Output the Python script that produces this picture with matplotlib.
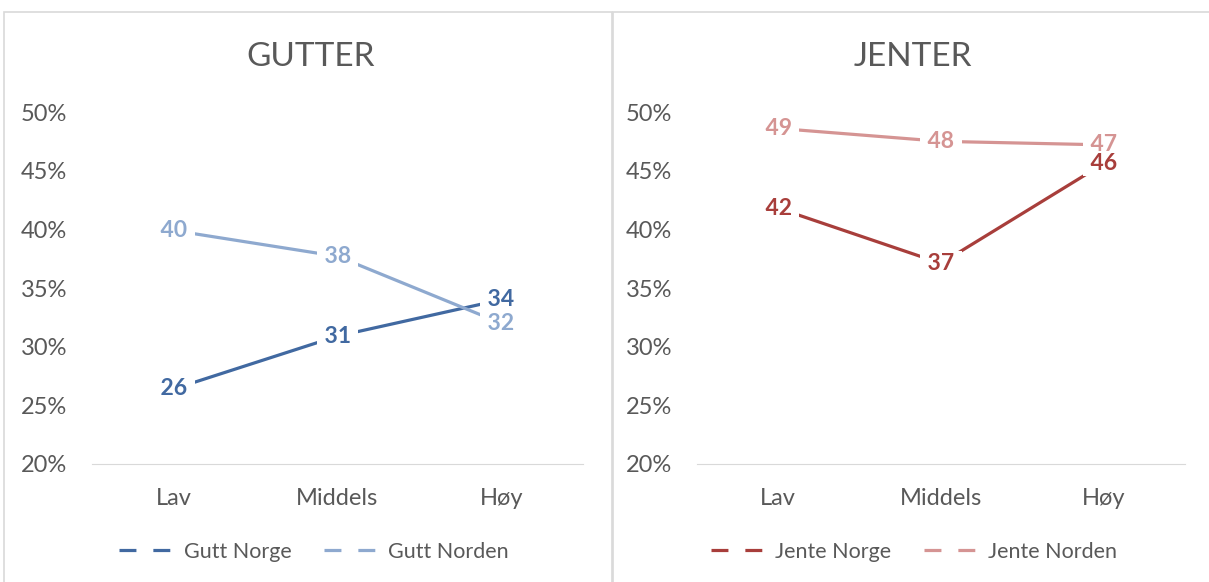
import matplotlib.pyplot as plt
from matplotlib.lines import Line2D
from matplotlib.patches import Rectangle
from matplotlib.ticker import PercentFormatter

categories = ["Lav", "Middels", "Høy"]
gutt_norge = [26.4, 30.9, 34.0]
gutt_norden = [39.9, 37.7, 32.0]
jente_norge = [41.8, 37.1, 45.6]
jente_norden = [48.6, 47.5, 47.2]

grey = "#595959"
plt.rcParams["font.family"] = ["Lato", "DejaVu Sans"]

fig = plt.figure(figsize=(12.09, 5.82), dpi=100)
W, H = 1209, 582

# chart boxes
for x0, x1 in [(4, 612), (613, 1215)]:
    fig.patches.append(Rectangle((x0 / W, -0.05), (x1 - x0) / W, 1.05 - 12 / H,
                                 transform=fig.transFigure, fill=False,
                                 ec="#D9D9D9", lw=1.2))

panels = [
    ("GUTTER", [92, 583], [("Gutt Norge", gutt_norge, "#4169A1"),
                           ("Gutt Norden", gutt_norden, "#8EA9CF")], 314, 311),
    ("JENTER", [697, 1185], [("Jente Norge", jente_norge, "#A83E3B"),
                            ("Jente Norden", jente_norden, "#D59493")], 914, 913),
]

for title, (xl, xr), series, cx, tx in panels:
    ax = fig.add_axes([xl / W, 1 - 464 / H, (xr - xl) / W, (464 - 112) / H])
    x = range(len(categories))
    handles = []
    for k, (name, vals, col) in enumerate(series):
        ax.plot(x, vals, color=col, lw=2.3, solid_capstyle="butt", zorder=2)
        for xi, v in zip(x, vals):
            ax.text(xi, v, f" {round(v):d} ", color=col, fontsize=16.5, fontweight="bold",
                    ha="center", va="center", zorder=5 - k,
                    bbox=dict(fc="white", ec="none", pad=1.5))
        handles.append(Line2D([], [], color=col, lw=2.3, dashes=(5.3, 5.3)))
    ax.set_xlim(-0.5, 2.5)
    ax.set_ylim(20, 50)
    ax.set_yticks(range(20, 51, 5))
    ax.yaxis.set_major_formatter(PercentFormatter(decimals=0))
    ax.set_xticks(list(x))
    ax.set_xticklabels(categories)
    ax.tick_params(length=0, labelsize=17, colors=grey)
    ax.tick_params(axis="y", pad=18)
    ax.tick_params(axis="x", pad=17)
    for s in ["top", "right", "left"]:
        ax.spines[s].set_visible(False)
    ax.spines["bottom"].set_color("#D9D9D9")
    fig.text(tx / W, 1 - 57 / H, title, fontsize=24, color=grey,
             ha="center", va="center")
    fig.legend(handles, [s[0] for s in series], loc="center",
               bbox_to_anchor=(cx / W, 1 - 552 / H), ncol=2, frameon=False,
               fontsize=15.5, labelcolor=grey, handlelength=3.0, handletextpad=0.0,
               columnspacing=1.5)

fig.savefig("out.png", dpi=100)
